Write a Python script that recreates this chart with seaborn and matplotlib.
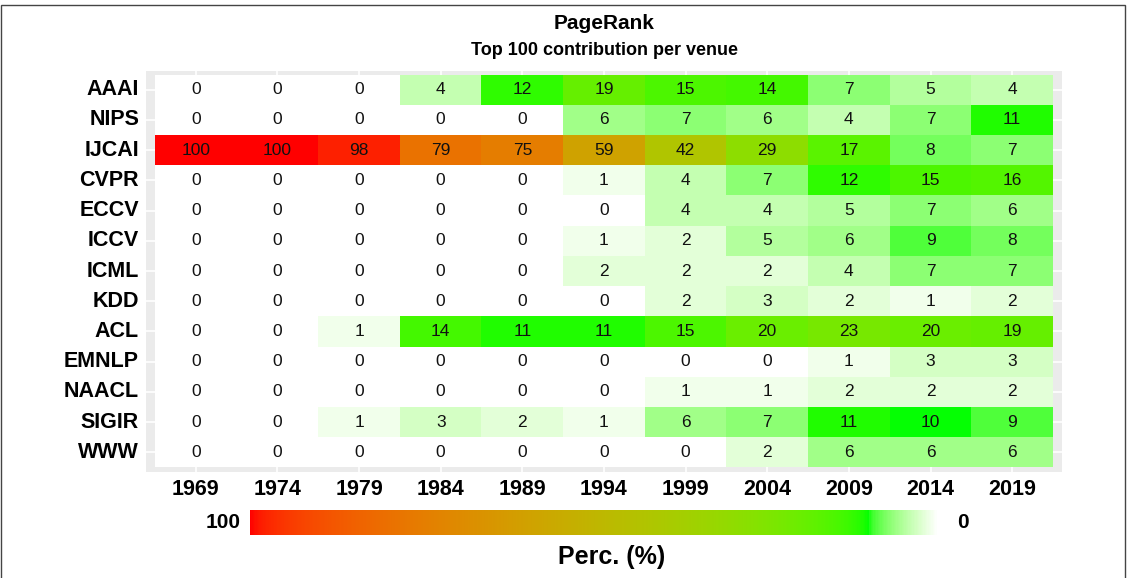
import numpy as np
import pandas as pd
import matplotlib
matplotlib.use("Agg")
import matplotlib.pyplot as plt
from matplotlib.colors import ListedColormap, to_rgb
from matplotlib.patches import Rectangle
import seaborn as sns

years = [1969, 1974, 1979, 1984, 1989, 1994, 1999, 2004, 2009, 2014, 2019]
venues = ["AAAI", "NIPS", "IJCAI", "CVPR", "ECCV", "ICCV", "ICML", "KDD",
          "ACL", "EMNLP", "NAACL", "SIGIR", "WWW"]

aaai = [0, 0, 0, 4, 12, 19, 15, 14, 7, 5, 4]
nips = [0, 0, 0, 0, 0, 6, 7, 6, 4, 7, 11]
ijcai = [100, 100, 98, 79, 75, 59, 42, 29, 17, 8, 7]
cvpr = [0, 0, 0, 0, 0, 1, 4, 7, 12, 15, 16]
eccv = [0, 0, 0, 0, 0, 0, 4, 4, 5, 7, 6]
iccv = [0, 0, 0, 0, 0, 1, 2, 5, 6, 9, 8]
icml = [0, 0, 0, 0, 0, 2, 2, 2, 4, 7, 7]
kdd = [0, 0, 0, 0, 0, 0, 2, 3, 2, 1, 2]
acl = [0, 0, 1, 14, 11, 11, 15, 20, 23, 20, 19]
emnlp = [0, 0, 0, 0, 0, 0, 0, 0, 1, 3, 3]
naacl = [0, 0, 0, 0, 0, 0, 1, 1, 2, 2, 2]
sigir = [0, 0, 1, 3, 2, 1, 6, 7, 11, 10, 9]
www = [0, 0, 0, 0, 0, 0, 0, 2, 6, 6, 6]

df = pd.DataFrame([aaai, nips, ijcai, cvpr, eccv, iccv, icml, kdd,
                   acl, emnlp, naacl, sigir, www], index=venues, columns=years)


# gradient white -> green -> red, interpolated in Lab space
def to_lab(rgb):
    rgb = np.asarray(rgb, float)
    lin = np.where(rgb <= 0.04045, rgb / 12.92, ((rgb + 0.055) / 1.055) ** 2.4)
    m = np.array([[0.4124, 0.3576, 0.1805],
                  [0.2126, 0.7152, 0.0722],
                  [0.0193, 0.1192, 0.9505]])
    xyz = m @ lin / np.array([0.95047, 1.0, 1.08883])
    f = np.where(xyz > 0.008856, np.cbrt(xyz), 7.787 * xyz + 16 / 116)
    return np.array([116 * f[1] - 16, 500 * (f[0] - f[1]), 200 * (f[1] - f[2])])


def from_lab(lab):
    fy = (lab[0] + 16) / 116
    fx = fy + lab[1] / 500
    fz = fy - lab[2] / 200
    f = np.array([fx, fy, fz])
    xyz = np.where(f ** 3 > 0.008856, f ** 3, (f - 16 / 116) / 7.787)
    xyz = xyz * np.array([0.95047, 1.0, 1.08883])
    m = np.array([[3.2406, -1.5372, -0.4986],
                  [-0.9689, 1.8758, 0.0415],
                  [0.0557, -0.2040, 1.0570]])
    lin = np.clip(m @ xyz, 0, 1)
    rgb = np.where(lin <= 0.0031308, 12.92 * lin, 1.055 * lin ** (1 / 2.4) - 0.055)
    return np.clip(rgb, 0, 1)


stops = [0.0, 0.1, 1.0]
stop_cols = [to_lab(to_rgb(c)) for c in ["#FFFFFF", "#00FF00", "#FF0000"]]
samples = []
for t in np.linspace(0, 1, 512):
    i = 0 if t <= stops[1] else 1
    u = (t - stops[i]) / (stops[i + 1] - stops[i])
    samples.append(from_lab(stop_cols[i] * (1 - u) + stop_cols[i + 1] * u))
cmap = ListedColormap(samples)

sns.set_style("white")
plt.rcParams["font.family"] = ["Liberation Sans", "DejaVu Sans"]
plt.rcParams["text.color"] = "black"

fig = plt.figure(figsize=(11.27, 5.78), dpi=100)
ax = fig.add_axes([0.1295, 0.1834, 0.8128, 0.6938])
ax.set_facecolor("#EBEBEB")

sns.heatmap(df, ax=ax, cmap=cmap, vmin=0, vmax=100, cbar=False, annot=True, fmt="d",
            annot_kws={"fontsize": 12.5, "color": "#111111"})
for t in ax.texts:
    t.set_color("#111111")

ax.set_xlim(-0.11, len(years) + 0.11)
ax.set_ylim(len(venues) + 0.15, -0.12)
ax.grid(True, color="white", lw=1.2)
ax.set_axisbelow(True)
for s in ax.spines.values():
    s.set_visible(False)
ax.tick_params(axis="both", length=3, width=0.8, color="#333333", labelsize=15.5,
               labelcolor="black", pad=2)
ax.tick_params(axis="x", rotation=0)
ax.tick_params(axis="y", rotation=0)
for lab in ax.get_xticklabels() + ax.get_yticklabels():
    lab.set_fontweight("bold")
ax.set_xlabel("")
ax.set_ylabel("")

fig.text(0.536, 0.959, "PageRank", ha="center", va="center", fontsize=15, fontweight="bold")
fig.text(0.536, 0.912, "Top 100 contribution per venue", ha="center", va="center",
         fontsize=13, fontweight="bold")

# horizontal colour bar, 100 on the left
cax = fig.add_axes([0.2218, 0.0744, 0.6105, 0.0433])
cb = fig.colorbar(ax.collections[0], cax=cax, orientation="horizontal")
cax.invert_xaxis()
cb.outline.set_visible(False)
cax.set_xticks([])
fig.text(0.2135, 0.0960, "100", ha="right", va="center", fontsize=15, fontweight="bold")
fig.text(0.849, 0.0960, "0", ha="left", va="center", fontsize=15, fontweight="bold")
fig.text(0.543, 0.036, "Perc. (%)", ha="center", va="center", fontsize=18, fontweight="bold")

fig.patches.append(Rectangle((0.001, -0.01), 0.997, 1.002, transform=fig.transFigure,
                             fill=False, ec="#444444", lw=1))

fig.savefig("out.png", dpi=100)
